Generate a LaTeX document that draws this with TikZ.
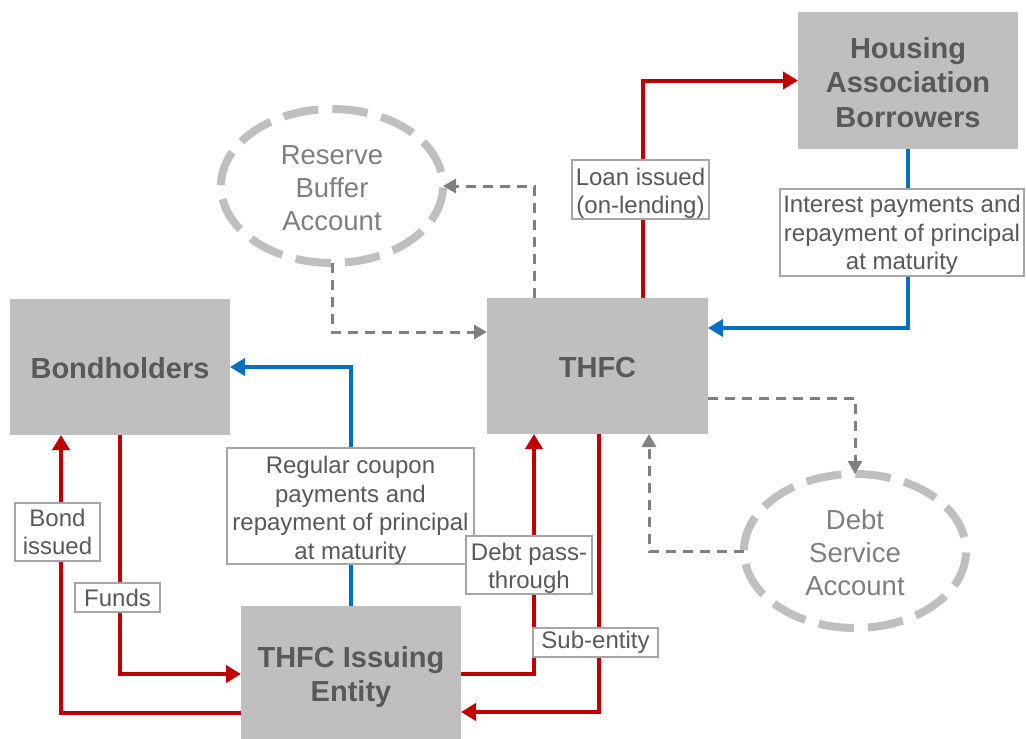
\documentclass[tikz,border=0pt]{standalone}
\usepackage{fontspec}
\setmainfont{Liberation Sans}
\usetikzlibrary{arrows.meta,shapes.geometric}
\definecolor{boxgray}{HTML}{BFBFBF}
\definecolor{darktext}{HTML}{595959}
\definecolor{flowred}{HTML}{C00000}
\definecolor{flowblue}{HTML}{0070C0}
\definecolor{dashgray}{HTML}{808080}
\definecolor{elltext}{HTML}{7F7F7F}
\definecolor{lblborder}{HTML}{A6A6A6}
\newcommand{\lift}[1]{\rule{0pt}{#1}}
\tikzset{
  entity/.style={fill=boxgray, minimum width=220pt, minimum height=136pt, inner sep=0pt, outer sep=0pt,
    align=center, text=darktext, font=\fontsize{29}{34.5}\selectfont\bfseries},
  account/.style={ellipse, draw=boxgray, line width=8pt, dash pattern=on 35.5pt off 14pt, dash phase=35.5pt,
    minimum width=222pt, minimum height=154pt, inner sep=0pt, outer sep=0pt, align=center,
    text=elltext, font=\fontsize{27.5}{33}\selectfont},
  flowlabel/.style={fill=white, draw=lblborder, line width=1.5pt, align=center, text=darktext,
    inner sep=0pt, font=\fontsize{24}{28.5}\selectfont},
  redflow/.style={draw=flowred, line width=4pt, -{Triangle[length=15pt,width=17pt]}},
  blueflow/.style={draw=flowblue, line width=4pt, -{Triangle[length=15pt,width=17pt]}},
  grayflow/.style={draw=dashgray, line width=3pt, dash pattern=on 10pt off 7pt, -{Triangle[length=13pt,width=14pt]}},
}
\begin{document}
\begin{tikzpicture}[x=1pt,y=-1pt]
\useasboundingbox (0,0) rectangle (1026,739);
% entities
\node[entity] (bond) at (120,367) {\lift{23pt}Bondholders};
\node[entity, minimum width=221pt] (thfc) at (597.5,366) {\lift{23pt}THFC};
\node[entity, minimum height=137pt] (hab) at (908,80.5) {\lift{25pt}Housing\\Association\\Borrowers};
\node[entity] (ise) at (351,674) {\lift{27pt}THFC Issuing\\Entity};
% accounts
\node[account] (rba) at (332,186) {\lift{24pt}Reserve\\Buffer\\Account};
\node[account] (dsa) at (855,551) {\lift{23pt}Debt\\Service\\Account};
% connectors
\draw[redflow] ([xshift=45.5pt]thfc.north) |- (hab.west);
\draw[blueflow] (hab.south) |- ([yshift=38pt]thfc.east);
\draw[grayflow] ([xshift=-63.5pt]thfc.north) |- (rba.east);
\draw[grayflow] (rba.south) |- ([yshift=34pt]thfc.west);
\draw[blueflow] (ise.north) |- (bond.east);
\draw[redflow] (bond.south) |- (ise.west);
\draw[redflow] ([yshift=-39pt]ise.west) -| ([xshift=-59pt]bond.south);
\draw[redflow] (ise.east) -| ([xshift=-63.5pt]thfc.south);
\draw[redflow] ([xshift=1.5pt]thfc.south) |- ([yshift=-38pt]ise.east);
\draw[grayflow] ([yshift=-32pt]thfc.east) -| (dsa.north);
\draw[grayflow] (dsa.west) -| ([xshift=51.5pt]thfc.south);
% labels
\node[flowlabel, minimum width=137pt, minimum height=59pt] (lloan) at (640.5,189.5) {\lift{24.5pt}Loan issued\\(on-lending)};
\node[flowlabel, minimum width=244pt, minimum height=87pt] (lint) at (902,232.5) {\lift{22.5pt}Interest payments and\\repayment of principal\\at maturity};
\node[flowlabel, minimum width=247pt, minimum height=116pt] (lreg) at (350.5,506) {\lift{25.5pt}Regular coupon\\payments and\\repayment of principal\\at maturity};
\node[flowlabel, minimum width=85pt, minimum height=29pt] (lfunds) at (117.5,597.5) {Funds};
\node[flowlabel, minimum width=85pt, minimum height=58pt] (lbond) at (57.5,532) {Bond\\issued};
\node[flowlabel, minimum width=126pt, minimum height=58pt] (ldebt) at (529,565) {\lift{23.5pt}Debt pass-\\through};
\node[flowlabel, minimum width=125pt, minimum height=29pt] (lsub) at (595.5,642.5) {Sub-entity};
\end{tikzpicture}
\end{document}
